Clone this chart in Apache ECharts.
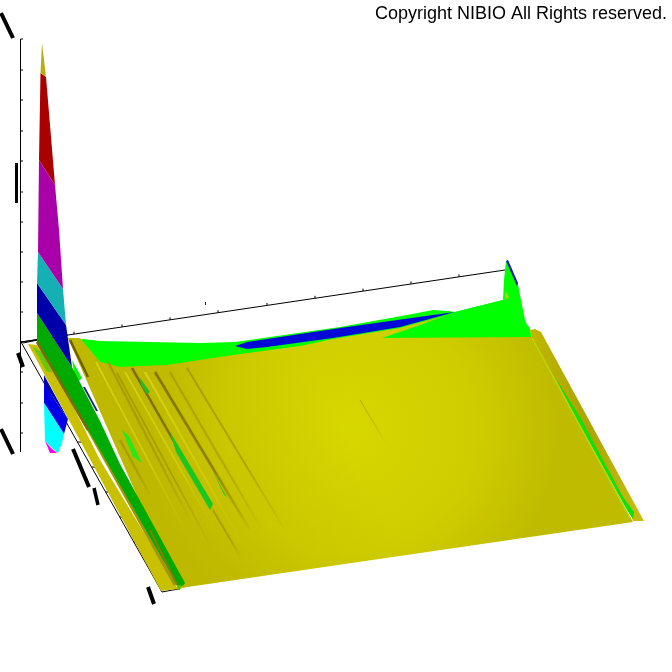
<!DOCTYPE html>
<html><head><meta charset="utf-8">
<script src="https://cdn.jsdelivr.net/npm/echarts@6/dist/echarts.min.js"></script>
<style>html,body{margin:0;background:#fff}#c{width:672px;height:672px}</style></head>
<body><div id="c"></div>
<script>
// Values, in the plane of the projected 3D view
const verticalAxis=[[20.5,39],[20.5,452]];
const verticalTicks=[39,70,100,131,161,192,222,252,282,312,342,372,403,433];
const backAxis=[[21,342],[505,270]];
const backTicks=[74,122,170,218,267,315,363,411,459];
const depthAxis=[[21,342],[162,592],[178,589]];
const depthTicks=[442,467,492,517,542,566];
const frontLine=[[21,342],[68,335]];
const innerLine=[[23,343],[38,340]];
const labelTop=[[1,13],[13,38]];
const labelZ=[[16.5,163],[16.5,203]];
const labelA=[[18,353],[23,367]];
const labelB=[[1,429],[13,454]];
const labelC=[[73,449],[89,487]];
const labelD=[[94,488],[98,505]];
const labelE=[[148,587],[154,604]];
const labelBack=[[205.5,302],[205.5,305]];

const backGreen=[[72,341],[83,339],[100,341],[150,342],[200,343],[235,342],[340,327],[407,315],[433,310],[448,311],[455,312],[503,300],[504,280],[506,261],[518,285],[525,320],[530,331],[532,340],[455,345],[300,370],[100,375]];
const tipBlue=[[506,261],[508,260],[518,283],[517,286]];
const blueRidge=[[235,346],[247,342],[340,328],[433,315],[455,312],[400,327],[333,338],[267,347],[247,349]];
const lowerDarkBlue=[[44,375],[68,419],[44,384]];
const lowerBlue=[[44,384],[68,419],[64,434],[44,403]];
const lowerCyan=[[44,403],[64,434],[62,443],[58,453],[52,448],[45,441]];
const lowerMagenta=[[45,441],[51,448],[57,453],[50,453]];
const mainSheet=[[68,338],[80,338],[100,362],[120,367],[167,365],[233,355],[300,346],[333,339],[400,328],[455,313],[532,337],[633,522],[187,587],[178,589]];
const leftShade=[[68,338],[80,338],[100,362],[120,367],[167,365],[233,355],[300,346],[450,548],[187,587],[178,589]];
const wedgeGreen=[[382,338],[420,325],[455,312],[503,300],[530,328],[531,337]];
const wedgeSpeck=[[505,290],[509,297],[505,300]];
const rightRoll=[[530,330],[535,329],[541,332],[547,343],[644,521],[633,521],[632,518],[532,338]];
const rightGreen=[[555,377],[580,417],[623,497],[634,512],[633,519],[627,510],[577,420]];
const rightBright=[[532,338],[630,518]];
const leftStrip=[[28,344],[37,345],[70,400],[100,460],[178,589],[161,591]];
const leftPaleGreen=[[33,347],[42,352],[52,372],[47,372]];
const midGreenA=[[122,430],[129,436],[142,463],[133,457]];
const midGreenB=[[170,432],[178,445],[213,504],[210,510],[176,452]];
const midGreenC=[[140,378],[150,392],[147,394],[141,385]];
const midGreenD=[[213,472],[227,497],[224,495]];
const cornerGreen=[[72,360],[82,378],[78,382],[75,377]];
const sliverDark=[[83,387],[85,387],[98,411],[96,411]];
const streak1=[[132,368],[213,510]];
const streak1b=[[213,510],[240,556]];
const streak2=[[155,372],[250,530]];
const streak3=[[187,368],[285,530]];
const streak4=[[170,372],[262,530]];
const streak5=[[117,373],[210,545]];
const streak6=[[108,362],[190,520]];
const streak7=[[70,340],[88,377]];
const streak8=[[360,400],[385,442]];
const streak9=[[120,440],[150,495]];
const streakLight1=[[125,372],[215,530]];
const streakLight2=[[145,372],[240,540]];
const streakLight3=[[96,362],[185,530]];
const strapBrown=[[37,342],[88,430]];
const strapOlive=[[83,420],[175,585]];
const strapDark=[[150,530],[177,585]];
const bandGreen=[[37,313],[72,367],[100,421],[120,464],[185,583],[183,586],[177,585],[100,450],[88,430],[37,342]];
const bandTip=[[177,585],[181,585],[180,590],[178,590]];
const spikeTeal=[[38,252],[63,289],[66,325],[37,283]];
const spikeDarkBlue=[[37,283],[66,325],[72,367],[37,313]];
const spikeMagenta=[[39,160],[55,185],[59,230],[63,289],[38,252]];
const spikeRed=[[40.5,73],[46,77],[55,185],[39,160]];
const spikeYellow=[[42,43],[46,77],[40.5,73]];
const copyright="Copyright NIBIO All Rights reserved.";

const G=echarts.graphic;
const sheetFill=new G.RadialGradient(0.5,0.42,0.75,[{offset:0,color:'#d7d700'},{offset:0.6,color:'#cfcd00'},{offset:1,color:'#bfbb00'}]);
const shadeFill=new G.LinearGradient(0.1,0.6,0.65,0.15,[{offset:0,color:'rgba(190,180,0,0.55)'},{offset:1,color:'rgba(190,180,0,0)'}]);
const rollFill=new G.LinearGradient(1,0,0,0,[{offset:0,color:'#c8c010'},{offset:0.5,color:'#aca400'},{offset:1,color:'#c0b800'}]);
const poly=(p,fill)=>({p,fill});
const line=(p,stroke,w)=>({p,stroke,w});
const rgba=(c,a)=>`rgba(${c[0]},${c[1]},${c[2]},${a})`;
const fade=(p,c,w,a)=>({p,w,soft:true,stroke:new G.LinearGradient(0,0,1,1,[{offset:0,color:rgba(c,a)},{offset:0.6,color:rgba(c,a*0.8)},{offset:1,color:rgba(c,0)}])});
const DARK=[120,106,0],MID=[160,150,0],LIGHT=[222,218,16];
const tickLines=[
  ...verticalTicks.map(y=>line([[20.5,y],[23,y]],'#000',1)),
  ...backTicks.map(x=>{const y=342-(x-21)*72/484;return line([[x,y],[x,y-2.5]],'#000',1)}),
  ...depthTicks.map(y=>{const x=21+(y-342)*141/250;return line([[x,y],[x+5,y]],'#000',1)})
];
const layers=[
  line(verticalAxis,'#000',1),line(backAxis,'#000',1),line(depthAxis,'#000',1),line(frontLine,'#000',1),line(innerLine,'#000',1),
  ...tickLines,
  ...[labelTop,labelB,labelA,labelC,labelE].map(p=>line(p,'#000',4)),
  line(labelZ,'#000',3),line(labelD,'#000',3.5),line(labelBack,'#222',1),
  poly(backGreen,'#00ff00'),poly(tipBlue,'#0018b0'),
  poly(lowerDarkBlue,'#0000b0'),poly(lowerBlue,'#0000e6'),poly(lowerCyan,'#00ffff'),poly(lowerMagenta,'#ff00ff'),
  poly(mainSheet,sheetFill),poly(leftShade,shadeFill),
  poly(wedgeGreen,'#00ff00'),poly(wedgeSpeck,'#a8d800'),poly(blueRidge,'#0008d8'),
  poly(rightRoll,rollFill),poly(rightGreen,'#10e010'),line(rightBright,'#bcd800',1.5),
  fade(streakLight3,LIGHT,2,0.8),fade(streakLight1,LIGHT,2,0.8),fade(streakLight2,LIGHT,2.5,0.8),
  fade(streak6,MID,2,0.8),fade(streak5,MID,1.5,0.9),fade(streak9,MID,2,0.8),fade(streak4,MID,2,0.6),fade(streak3,MID,1.5,0.8),fade(streak8,MID,1,0.5),
  fade(streak2,DARK,2.5,0.85),fade(streak1,DARK,2.5,1),fade(streak1b,MID,1.5,0.8),line(streak7,'#6e6000',2.5),
  poly(cornerGreen,'#10f010'),poly(sliverDark,'#102080'),
  poly(midGreenA,'#28e818'),poly(midGreenB,'#18c820'),poly(midGreenC,'#20c020'),poly(midGreenD,'#40c810'),
  poly(leftStrip,'#c8c000'),poly(leftPaleGreen,'#68c808'),
  line(strapOlive,'#a09600',3),
  poly(bandGreen,'#00aa00'),line(strapBrown,'#7a6a00',2.5),line(strapDark,'#8a7c00',2),poly(bandTip,'#50c000'),
  poly(spikeDarkBlue,'#0000aa'),poly(spikeTeal,'#14b0b4'),poly(spikeMagenta,'#aa00aa'),poly(spikeRed,'#aa0000'),poly(spikeYellow,'#b8ac14')
];
const chart=echarts.init(document.getElementById('c'),null,{renderer:'canvas'});
chart.setOption({
  animation:false,
  backgroundColor:'#fff',
  grid:{left:0,right:0,top:0,bottom:0},
  xAxis:{type:'value',min:0,max:672,show:false},
  yAxis:{type:'value',min:0,max:672,inverse:true,show:false},
  title:{text:copyright,right:0,top:0,textStyle:{fontFamily:'Liberation Sans',fontSize:18,fontWeight:'normal',color:'#000'}},
  series:[{
    type:'custom',coordinateSystem:'cartesian2d',silent:true,clip:false,
    data:layers.map((l,i)=>[i]),encode:{x:0,y:0},
    renderItem(params,api){
      const l=layers[api.value(0)];
      const points=l.p.map(q=>api.coord(q));
      return l.fill
        ?{type:'polygon',shape:{points},style:{fill:l.fill,stroke:null}}
        :{type:'polyline',shape:{points},style:{fill:null,stroke:l.stroke,lineWidth:l.w,shadowBlur:l.soft?1.5:0,shadowColor:l.soft?'rgba(150,140,0,0.4)':null}};
    }
  }]
});
</script></body></html>
